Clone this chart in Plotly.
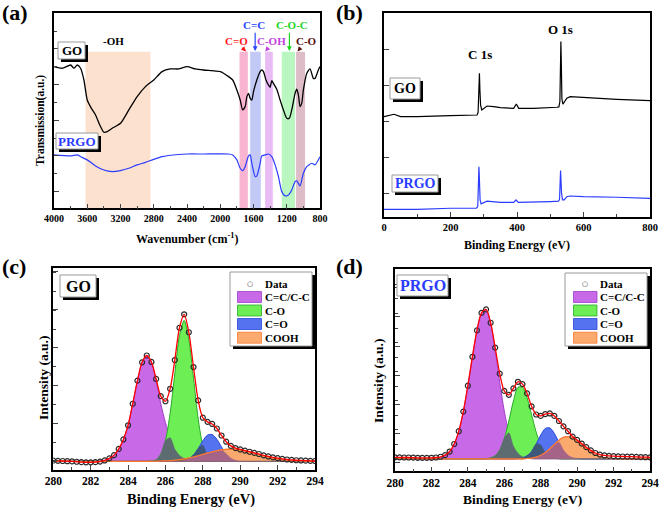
import numpy as np
import plotly.graph_objects as go

W, H = 661, 507
def px(x): return x / W
def py(y): return 1 - y / H

FONT = "Liberation Serif, Times New Roman, serif"

# ---------------- (a) FTIR ----------------
ftir_wn_go = [4000, 3900, 3800, 3760, 3720, 3680, 3640, 3600, 3550, 3500, 3450, 3400, 3360, 3300, 3200, 3100,
              3000, 2900, 2800, 2700, 2600, 2500, 2400, 2300, 2200, 2100, 2000, 1900, 1850, 1800, 1760, 1730,
              1700, 1680, 1660, 1640, 1620, 1600, 1560, 1520, 1500, 1480, 1450, 1420, 1400, 1380, 1360, 1320,
              1280, 1240, 1200, 1170, 1140, 1100, 1080, 1060, 1040, 1020, 1000, 960, 920, 880, 860, 820, 800]
ftir_go = [70.1, 69.2, 71.0, 69.2, 71.0, 69.2, 62.6, 51.4, 46.7, 43.0, 37.4, 33.3, 33.6, 35.5, 38.3, 45.8,
           53.3, 58.9, 62.6, 67.3, 68.8, 68.8, 70.1, 68.8, 68.2, 67.8, 67.3, 64.5, 62.6, 57.0, 51.4, 45.8,
           47.7, 53.3, 55.1, 52.3, 51.4, 56.1, 62.6, 67.3, 68.2, 67.3, 62.6, 59.8, 58.5, 62.2, 60.7, 57.4,
           51.4, 45.8, 41.1, 41.1, 45.8, 55.1, 57.4, 54.2, 47.7, 49.5, 57.0, 66.3, 68.8, 63.5, 63.5, 68.2, 70.1]

ftir_wn_prgo = [4000, 3800, 3720, 3680, 3600, 3500, 3400, 3300, 3200, 3100, 3000, 2900, 2800, 2700, 2600, 2400,
                2200, 1900, 1850, 1800, 1760, 1730, 1700, 1660, 1640, 1620, 1580, 1560, 1520, 1500, 1460, 1420,
                1380, 1340, 1300, 1260, 1220, 1180, 1140, 1100, 1080, 1040, 1000, 960, 900, 860, 800]
ftir_prgo = [20.6, 20.0, 20.6, 19.6, 17.8, 14.4, 12.1, 11.2, 11.8, 13.1, 15.0, 16.4, 18.1, 19.6, 20.4, 21.1,
             21.1, 21.1, 20.6, 17.8, 13.1, 11.8, 14.0, 20.0, 20.6, 15.9, 8.4, 8.8, 15.9, 20.0, 20.6, 21.1,
             19.6, 15.0, 8.4, 0.0, -2.4, -1.9, 0.9, 5.6, 6.0, 3.2, 10.3, 14.0, 15.9, 15.0, 19.6]

band_names = ["-OH", "C=O", "C=C", "C-OH", "C-O-C", "C-O"]
band_lo = [2840, 1668, 1512, 1368, 1100, 980]
band_hi = [3620, 1768, 1640, 1460, 1260, 1088]
band_colors = ["rgba(250,200,165,0.55)", "rgba(245,140,185,0.65)", "rgba(155,165,240,0.6)",
               "rgba(220,150,240,0.65)", "rgba(140,240,150,0.6)", "rgba(200,145,165,0.6)"]
label_x = [3280, 1800, 1600, 1380, 1140, 968]
label_y = [84.5, 84.7, 93.5, 84.7, 93.5, 84.7]
label_colors = ["black", "#ff1a1a", "#2a45ff", "#c23fe0", "#1fd51f", "#5a1010"]
arrow_tail_x = [None, 1752, 1580, 1408, 1168, 1020]
arrow_tail_y = [None, 81.5, 90.0, 81.5, 90.0, 81.5]
arrow_head_x = [None, 1690, 1580, 1458, 1168, 1070]
arrow_head_y = [None, 78.6, 78.8, 78.6, 78.8, 78.6]

# ---------------- (b) XPS survey ----------------
surv_e_go = [0, 20, 30, 50, 100, 200, 270, 280, 283, 285.5, 287, 288.5, 290.5, 294, 300, 310, 330, 350, 390,
             398, 405, 450, 520, 526, 529, 530.5, 532, 533.5, 535, 538, 542, 550, 560, 600, 700, 800]
surv_go = [42.6, 43.2, 43.9, 42.6, 42.6, 43.2, 43.5, 43.5, 45.0, 60.0, 66.7, 57.0, 49.0, 46.3, 47.2, 48.5, 48.2,
           47.6, 47.2, 49.6, 47.2, 47.2, 47.8, 48.0, 51.0, 75.0, 84.3, 70.0, 52.5, 49.5, 50.5, 52.8, 53.7, 53.2,
           52.2, 51.5]
surv_e_prgo = [0, 100, 200, 278, 282, 284, 285.5, 287, 289, 292, 300, 310, 350, 390, 397, 404, 500, 525, 528,
               531, 534, 537, 542, 550, 560, 600, 700, 800]
surv_prgo = [-8.9, -8.9, -8.3, -8.3, -7.4, 3.7, 14.8, 7.4, -3.7, -5.9, -5.2, -4.4, -5.0, -5.0, -3.7, -5.0, -4.6,
             -4.4, -3.3, 12.6, 0.0, -3.7, -3.7, -1.9, -1.5, -1.9, -2.2, -2.8]

# ---------------- (c)/(d) C 1s ----------------
be = [280.0, 280.25, 280.5, 280.75, 281.0, 281.25, 281.5, 281.75, 282.0, 282.25, 282.5, 282.75, 283.0, 283.25,
      283.5, 283.75, 284.0, 284.25, 284.5, 284.75, 285.0, 285.25, 285.5, 285.75, 286.0, 286.25, 286.5, 286.75,
      287.0, 287.25, 287.5, 287.75, 288.0, 288.25, 288.5, 288.75, 289.0, 289.25, 289.5, 289.75, 290.0, 290.25,
      290.5, 290.75, 291.0, 291.25, 291.5, 291.75, 292.0, 292.25, 292.5, 292.75, 293.0, 293.25, 293.5, 293.75,
      294.0]

go_data = [0.4, 0.3, 0.2, 0.1, 0.0, -0.2, -0.4, -0.5, -0.5, -0.4, -0.1, 0.5, 1.6, 3.3, 6.6, 11.6, 19.1, 30.5,
           42.7, 52.4, 56.0, 52.6, 43.6, 34.5, 31.8, 38.4, 53.6, 70.7, 77.8, 68.3, 49.9, 32.3, 23.1, 20.9, 19.8,
           17.4, 13.7, 10.4, 8.2, 7.0, 6.3, 5.7, 5.1, 4.5, 3.9, 3.2, 2.6, 2.1, 1.7, 1.3, 1.0, 0.8, 0.6, 0.5, 0.4,
           0.3, 0.2]
go_cc = [0, 0, 0, 0, 0, 0, 0, 0, 0, 0, 0.2, 0.6, 1.5, 3.2, 6.5, 11.5, 19.0, 30.5, 42.7, 52.4, 56.0, 52.4, 42.7,
         30.5, 20.5, 12.5, 6.5, 3.2, 1.5, 0.6, 0.2, 0, 0, 0, 0, 0, 0, 0, 0, 0, 0, 0, 0, 0, 0, 0, 0, 0, 0, 0, 0,
         0, 0, 0, 0, 0, 0]
go_co = [0, 0, 0, 0, 0, 0, 0, 0, 0, 0, 0, 0, 0, 0, 0, 0, 0, 0, 0, 0, 0, 0.2, 0.8, 3.8, 11.0, 25.5, 46.5, 66.5,
         74.6, 64.5, 44.0, 22.5, 8.5, 2.6, 0.6, 0.1, 0, 0, 0, 0, 0, 0, 0, 0, 0, 0, 0, 0, 0, 0, 0, 0, 0, 0, 0,
         0, 0]
go_c_o = [0, 0, 0, 0, 0, 0, 0, 0, 0, 0, 0, 0, 0, 0, 0, 0, 0, 0, 0, 0, 0, 0, 0, 0, 0, 0, 0, 0.1, 0.4, 1.4, 3.4,
          6.8, 10.9, 13.9, 14.2, 11.7, 7.6, 4.0, 1.7, 0.6, 0.15, 0, 0, 0, 0, 0, 0, 0, 0, 0, 0, 0, 0, 0, 0, 0, 0]
go_cooh = [0, 0, 0, 0, 0, 0, 0, 0, 0, 0, 0, 0, 0, 0, 0, 0, 0, 0, 0, 0, 0, 0, 0.1, 0.2, 0.3, 0.4, 0.65, 0.9,
           1.3, 1.8, 2.3, 3.0, 3.7, 4.4, 5.0, 5.6, 6.1, 6.4, 6.5, 6.4, 6.1, 5.6, 5.0, 4.4, 3.7, 3.0, 2.3, 1.8,
           1.3, 0.9, 0.65, 0.4, 0.3, 0.2, 0.1, 0, 0]

prgo_data = [1.0, 1.0, 0.9, 0.9, 0.8, 0.7, 0.6, 0.6, 0.7, 0.9, 1.4, 2.5, 5.0, 10.2, 19.0, 32.5, 50.3, 70.2,
             88.4, 100.4, 102.8, 93.6, 76.5, 58.6, 46.7, 44.0, 48.5, 53.0, 51.4, 45.0, 36.1, 30.5, 29.5, 30.8,
             31.2, 29.5, 26.0, 22.3, 19.0, 15.3, 13.0, 10.5, 8.0, 5.8, 4.0, 2.9, 2.3, 2.0, 1.8, 1.7, 1.6, 1.5,
             1.5, 1.3, 1.2, 1.1, 1.0]
prgo_cc = [0, 0, 0, 0, 0, 0, 0, 0, 0.1, 0.3, 0.75, 2.0, 4.6, 9.8, 18.7, 32.3, 50.1, 70.1, 88.3, 100.2, 102.5,
           93.0, 74.4, 52.6, 32.8, 18.0, 8.8, 3.8, 1.4, 0.5, 0.1, 0, 0, 0, 0, 0, 0, 0, 0, 0, 0, 0, 0, 0, 0, 0,
           0, 0, 0, 0, 0, 0, 0, 0, 0, 0, 0]
prgo_co = [0, 0, 0, 0, 0, 0, 0, 0, 0, 0, 0, 0, 0, 0, 0, 0, 0, 0, 0, 0, 0.1, 0.6, 2.1, 6.0, 13.9, 26.0, 39.7,
           49.1, 49.3, 42.1, 30.3, 18.4, 9.5, 4.1, 1.5, 0.5, 0.1, 0, 0, 0, 0, 0, 0, 0, 0, 0, 0, 0, 0, 0, 0, 0,
           0, 0, 0, 0, 0]
prgo_c_o = [0, 0, 0, 0, 0, 0, 0, 0, 0, 0, 0, 0, 0, 0, 0, 0, 0, 0, 0, 0, 0, 0, 0, 0, 0, 0, 0, 0.2, 0.7, 2.1,
            5.1, 10.2, 16.3, 20.9, 21.3, 17.4, 11.4, 6.0, 2.5, 0.85, 0.23, 0.05, 0, 0, 0, 0, 0, 0, 0, 0, 0, 0,
            0, 0, 0, 0, 0]
prgo_cooh = [0, 0, 0, 0, 0, 0, 0, 0, 0, 0, 0, 0, 0, 0, 0, 0, 0, 0, 0, 0, 0, 0, 0, 0, 0, 0, 0, 0, 0, 0.2, 0.5,
             1.2, 2.4, 4.3, 6.9, 9.9, 12.8, 14.8, 15.3, 14.4, 12.3, 9.7, 7.0, 4.6, 2.75, 1.5, 0.76, 0.35, 0.15,
             0.06, 0, 0, 0, 0, 0, 0, 0]

comp_names = ["C=C/C-C", "C-O", "C=O", "COOH"]
comp_fill = ["rgb(200,105,232)", "rgb(110,238,85)", "rgb(85,115,238)", "rgb(250,170,110)"]
comp_line = ["rgb(160,60,200)", "rgb(40,170,40)", "rgb(40,70,220)", "rgb(255,120,50)"]

fig = go.Figure()

# (a)
fig.add_trace(go.Scatter(x=ftir_wn_go, y=ftir_go, mode="lines", xaxis="x", yaxis="y",
                         line=dict(color="black", width=1.3, shape="spline", smoothing=0.6)))
fig.add_trace(go.Scatter(x=ftir_wn_prgo, y=ftir_prgo, mode="lines", xaxis="x", yaxis="y",
                         line=dict(color="#2a3cff", width=1.2, shape="spline", smoothing=0.6)))
# (b)
fig.add_trace(go.Scatter(x=surv_e_go, y=surv_go, mode="lines", xaxis="x2", yaxis="y2",
                         line=dict(color="black", width=1.2)))
fig.add_trace(go.Scatter(x=surv_e_prgo, y=surv_prgo, mode="lines", xaxis="x2", yaxis="y2",
                         line=dict(color="#2a3cff", width=1.2)))

# (c),(d)
def add_xps(comps, data, xa, ya):
    for vals, fc, lc in zip(comps, comp_fill, comp_line):
        fig.add_trace(go.Scatter(x=be, y=vals, mode="lines", fill="tozeroy", fillcolor=fc,
                                 line=dict(color=lc, width=1, shape="spline", smoothing=0.8),
                                 xaxis=xa, yaxis=ya))
    a = [np.array(c, dtype=float) for c in comps]
    overlaps = [(np.minimum(a[0], a[1]), "rgb(92,108,112)"),
                (np.minimum(a[1], a[2]), "rgb(62,88,122)"),
                (np.minimum(a[1], a[3]), "rgb(120,100,70)"),
                (np.minimum(a[2], a[3]), "rgb(165,100,135)")]
    for ov, col in overlaps:
        fig.add_trace(go.Scatter(x=be, y=ov, mode="lines", fill="tozeroy", fillcolor=col,
                                 line=dict(color=col, width=0.5, shape="spline", smoothing=0.8),
                                 xaxis=xa, yaxis=ya))
    fig.add_trace(go.Scatter(x=be, y=comps[3], mode="lines",
                             line=dict(color=comp_line[3], width=1.2, shape="spline", smoothing=0.8),
                             xaxis=xa, yaxis=ya))
    fig.add_trace(go.Scatter(x=be, y=data, mode="markers", xaxis=xa, yaxis=ya,
                             marker=dict(symbol="circle-open", size=5, color="#2a2a2a",
                                         line=dict(width=1.2, color="#2a2a2a"))))
    fig.add_trace(go.Scatter(x=be, y=data, mode="lines", xaxis=xa, yaxis=ya,
                             line=dict(color="#ff0000", width=1.3, shape="spline", smoothing=0.8)))

add_xps([go_cc, go_co, go_c_o, go_cooh], go_data, "x3", "y3")
add_xps([prgo_cc, prgo_co, prgo_c_o, prgo_cooh], prgo_data, "x4", "y4")

shapes = []
annotations = []

def text(x, y, t, size, color="black", xref="paper", yref="paper", xanchor="center", angle=0, family=FONT,
         bold=True):
    f = dict(family=family, size=size, color=color)
    if bold:
        f["weight"] = "bold"
    annotations.append(dict(xref=xref, yref=yref, x=x, y=y, text=t, showarrow=False, xanchor=xanchor,
                            yanchor="middle", textangle=angle, font=f))

# bands in (a)
for lo, hi, col in zip(band_lo, band_hi, band_colors):
    shapes.append(dict(type="rect", xref="x", yref="y", x0=hi, x1=lo, y0=-9.35, y1=78.5,
                       fillcolor=col, line=dict(width=0), layer="below"))
for i, name in enumerate(band_names):
    text(label_x[i], label_y[i], name, 11, label_colors[i], xref="x", yref="y")
    if arrow_tail_x[i] is not None:
        annotations.append(dict(xref="x", yref="y", axref="x", ayref="y", x=arrow_head_x[i], y=arrow_head_y[i],
                                ax=arrow_tail_x[i], ay=arrow_tail_y[i], text="", showarrow=True,
                                arrowhead=2, arrowsize=0.8, arrowwidth=1.2, arrowcolor=label_colors[i]))

def label_box(x0, y0, x1, y1, t, color, size):
    shapes.append(dict(type="rect", xref="paper", yref="paper", x0=px(x0 + 3), x1=px(x1 + 3),
                       y0=py(y1 + 3), y1=py(y0 + 3), fillcolor="black", line=dict(width=0), layer="above"))
    shapes.append(dict(type="rect", xref="paper", yref="paper", x0=px(x0), x1=px(x1), y0=py(y1), y1=py(y0),
                       fillcolor="white", line=dict(color="#9a9a9a", width=1), layer="above"))
    text(px((x0 + x1) / 2), py((y0 + y1) / 2), t, size, color)

label_box(58, 42, 85, 59, "GO", "black", 13)
label_box(56, 133, 98, 149, "PRGO", "#2a3cff", 13)
label_box(390, 78, 420, 99, "GO", "black", 14)
label_box(392, 175, 438, 192, "PRGO", "#2a3cff", 14)
label_box(60, 275, 96, 297, "GO", "black", 16)
label_box(397, 275, 448, 296, "PRGO", "#2a3cff", 16)

# survey peak labels
text(290, 77, "C 1s", 13, xref="x2", yref="y2")
text(530, 91, "O 1s", 13, xref="x2", yref="y2")

# legends for (c) and (d)
def legend_box(x0, y0, x1, y1, sw_x0, sw_x1, txt_x, rows_y):
    shapes.append(dict(type="rect", xref="paper", yref="paper", x0=px(x0 + 3), x1=px(x1 + 3),
                       y0=py(y1 + 3), y1=py(y0 + 3), fillcolor="black", line=dict(width=0), layer="above"))
    shapes.append(dict(type="rect", xref="paper", yref="paper", x0=px(x0), x1=px(x1), y0=py(y1), y1=py(y0),
                       fillcolor="white", line=dict(color="#9a9a9a", width=1), layer="above"))
    text(px((sw_x0 + sw_x1) / 2), py(rows_y[0]), "\u25cb", 7, "#333333", family="DejaVu Sans", bold=False)
    names = ["Data"] + comp_names
    for k, nm in enumerate(names):
        text(px(txt_x), py(rows_y[k]), nm, 11, xanchor="left")
        if k > 0:
            shapes.append(dict(type="rect", xref="paper", yref="paper", x0=px(sw_x0), x1=px(sw_x1),
                               y0=py(rows_y[k] + 5.5), y1=py(rows_y[k] - 5.5), layer="above",
                               fillcolor=comp_fill[k - 1], line=dict(color=comp_line[k - 1], width=0.8)))

legend_box(230, 272, 312, 346, 237.5, 261.5, 263, [283.7, 297, 310.5, 324, 337.7])
legend_box(565, 273, 647, 346, 573.5, 597, 598, [283.7, 297, 310.5, 324, 337.7])

# panel letters
for t, x, y in [("(a)", 15, 12), ("(b)", 349, 12), ("(c)", 14, 266), ("(d)", 349, 266)]:
    text(px(x), py(y), t, 22)

# axis titles
text(px(187), py(238.5), "Wavenumber (cm<sup>-1</sup>)", 12)
text(px(517), py(245), "Binding Energy (eV)", 12)
text(px(191), py(499), "Binding Energy (eV)", 14.5)
text(px(522), py(499), "Binding Energy (eV)", 13.5)
text(px(40), py(121), "Transmission(a.u.)", 11.5, angle=-90)
text(px(43), py(378), "Intensity (a.u.)", 13.5, angle=-90)
text(px(378), py(381), "Intensity (a.u.)", 13.5, angle=-90)

def xax(domain, rng, tick0, dtick, mdtick, size, anchor):
    return dict(domain=domain, range=rng, tick0=tick0, dtick=dtick, ticks="inside", ticklen=5, tickwidth=1,
                minor=dict(dtick=mdtick, ticks="inside", ticklen=3, tickwidth=1), showline=True, mirror=True,
                linecolor="black", linewidth=1.5, showgrid=False, zeroline=False, anchor=anchor,
                automargin=False,
                tickfont=dict(family=FONT, size=size, color="black", weight="bold"))

def yax(domain, rng, tick0, dtick, mdtick, anchor):
    d = dict(domain=domain, range=rng, tick0=tick0, dtick=dtick, ticks="inside", ticklen=5, tickwidth=1,
             showline=True, mirror=True, linecolor="black", linewidth=1.5, showgrid=False, zeroline=False,
             showticklabels=False, anchor=anchor, automargin=False)
    if mdtick:
        d["minor"] = dict(dtick=mdtick, ticks="inside", ticklen=3, tickwidth=1)
    return d

fig.update_layout(
    width=W, height=H, margin=dict(l=0, r=0, t=0, b=0, autoexpand=False),
    paper_bgcolor="white", plot_bgcolor="white", hovermode=False,
    showlegend=False, shapes=shapes, annotations=annotations,
    xaxis=xax([px(54), px(320)], [4000, 800], 800, 400, 200, 10, "y"),
    yaxis=yax([py(208.3), py(13.3)], [-9.35, 100], 0, 20, 10, "x"),
    xaxis2=xax([px(384), px(650)], [0, 800], 0, 200, 100, 10.5, "y2"),
    yaxis2=yax([py(216.7), py(13.3)], [-13, 100], 0, 20, None, "x2"),
    xaxis3=xax([px(53.3), px(315)], [280, 294], 280, 2, 1, 11.5, "y3"),
    yaxis3=yax([py(469.7), py(268)], [-4.4, 102.3], 20.3, 20, 10, "x3"),
    xaxis4=xax([px(395), px(650)], [280, 294], 280, 2, 1, 11.5, "y4"),
    yaxis4=yax([py(471.3), py(269)], [-8.6, 130.6], 17.6, 20, 10, "x4"),
)

fig.write_html("out.html", config={"displayModeBar": False},
               post_script="document.body.style.margin='0';document.body.style.overflow='hidden';")
